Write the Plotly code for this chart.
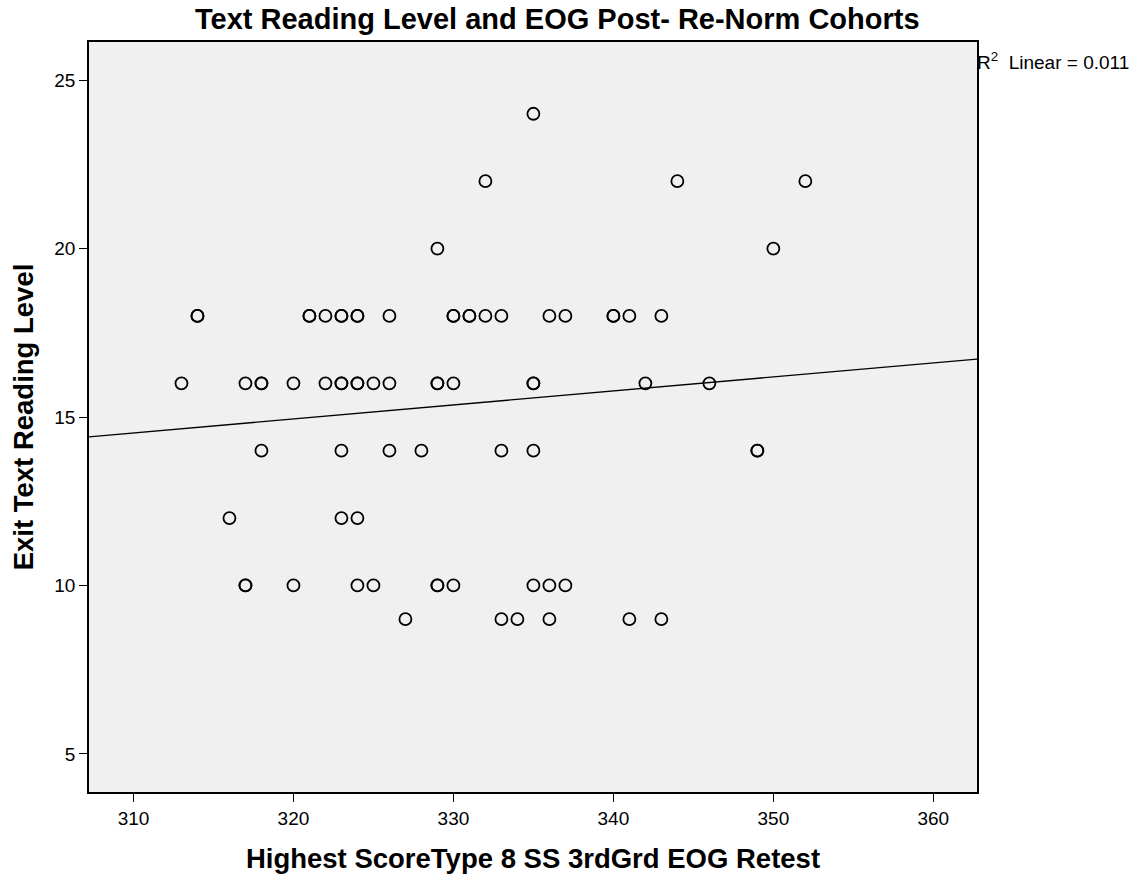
import plotly.graph_objects as go

# Data (x = EOG retest score, y = exit text reading level)
score = [314, 314, 313, 316, 317, 317, 317, 318, 318, 318, 320, 320,
         321, 321, 322, 322, 323, 323, 323, 323, 323, 323, 324, 324, 324, 324, 324, 324,
         325, 325, 326, 326, 326, 327, 328,
         329, 329, 329, 329, 329, 330, 330, 330, 330, 331, 331,
         332, 332, 333, 333, 333, 334,
         335, 335, 335, 335, 335, 336, 336, 336, 337, 337,
         340, 340, 341, 341, 342, 343, 343, 344, 346, 349, 349, 350, 352]
level = [18, 18, 16, 12, 16, 10, 10, 16, 16, 14, 16, 10,
         18, 18, 18, 16, 18, 18, 16, 16, 14, 12, 18, 18, 16, 16, 12, 10,
         16, 10, 18, 16, 14, 9, 14,
         20, 16, 16, 10, 10, 18, 18, 16, 10, 18, 18,
         22, 18, 18, 14, 9, 9,
         24, 16, 16, 14, 10, 18, 10, 9, 18, 10,
         18, 18, 18, 9, 16, 18, 9, 22, 16, 14, 14, 20, 22]

# Fit line as shown (R^2 Linear = 0.011)
fit_slope = 0.0416
fit_at_xmin = 14.41
x_range = [307.22, 362.73]
y_range = [3.87, 26.13]

x_ticks = [310, 320, 330, 340, 350, 360]
y_ticks = [5, 10, 15, 20, 25]

fit_x = x_range
fit_y = [fit_at_xmin, fit_at_xmin + fit_slope * (x_range[1] - x_range[0])]

fig = go.Figure()
fig.add_trace(go.Scatter(x=fit_x, y=fit_y, mode="lines",
                         line=dict(color="black", width=1.3), hoverinfo="skip"))
fig.add_trace(go.Scatter(x=score, y=level, mode="markers",
                         marker=dict(symbol="circle-open", size=12, color="black",
                                     line=dict(width=1.8, color="black"))))

font_family = "Liberation Sans, Arial, sans-serif"

fig.update_layout(
    width=1141, height=881,
    margin=dict(l=89, r=164, t=42, b=89),
    paper_bgcolor="white", plot_bgcolor="#F0F0F0",
    showlegend=False,
    font=dict(family=font_family, color="black"),
    annotations=[
        dict(text="<b>Text Reading Level and EOG Post- Re-Norm Cohorts</b>",
             xref="paper", yref="paper", x=0.528, y=1, yshift=23,
             xanchor="center", yanchor="middle", showarrow=False,
             font=dict(size=29, family=font_family, color="black")),
        dict(text="R<sup>2</sup>&nbsp;&nbsp;Linear = 0.011",
             xref="paper", yref="paper", x=1, y=1, xshift=-2, yshift=-19,
             xanchor="left", yanchor="middle", showarrow=False,
             font=dict(size=19, family=font_family, color="black")),
    ],
)
fig.update_xaxes(range=x_range, tickvals=x_ticks, ticks="outside", ticklen=8,
                 tickwidth=1.3, tickcolor="black", showgrid=False, zeroline=False,
                 showline=True, mirror=True, linecolor="black", linewidth=1.5,
                 tickfont=dict(size=19, family=font_family),
                 title=dict(text="<b>Highest ScoreType 8 SS 3rdGrd EOG Retest</b>",
                            font=dict(size=27.5, family=font_family), standoff=21))
fig.update_yaxes(range=y_range, tickvals=y_ticks, ticks="outside", ticklen=8,
                 tickwidth=1.3, tickcolor="black", showgrid=False, zeroline=False,
                 showline=True, mirror=True, linecolor="black", linewidth=1.5,
                 tickfont=dict(size=19, family=font_family),
                 title=dict(text="<b>Exit Text Reading Level</b>",
                            font=dict(size=27.5, family=font_family), standoff=13))

fig.write_html("out.html")
